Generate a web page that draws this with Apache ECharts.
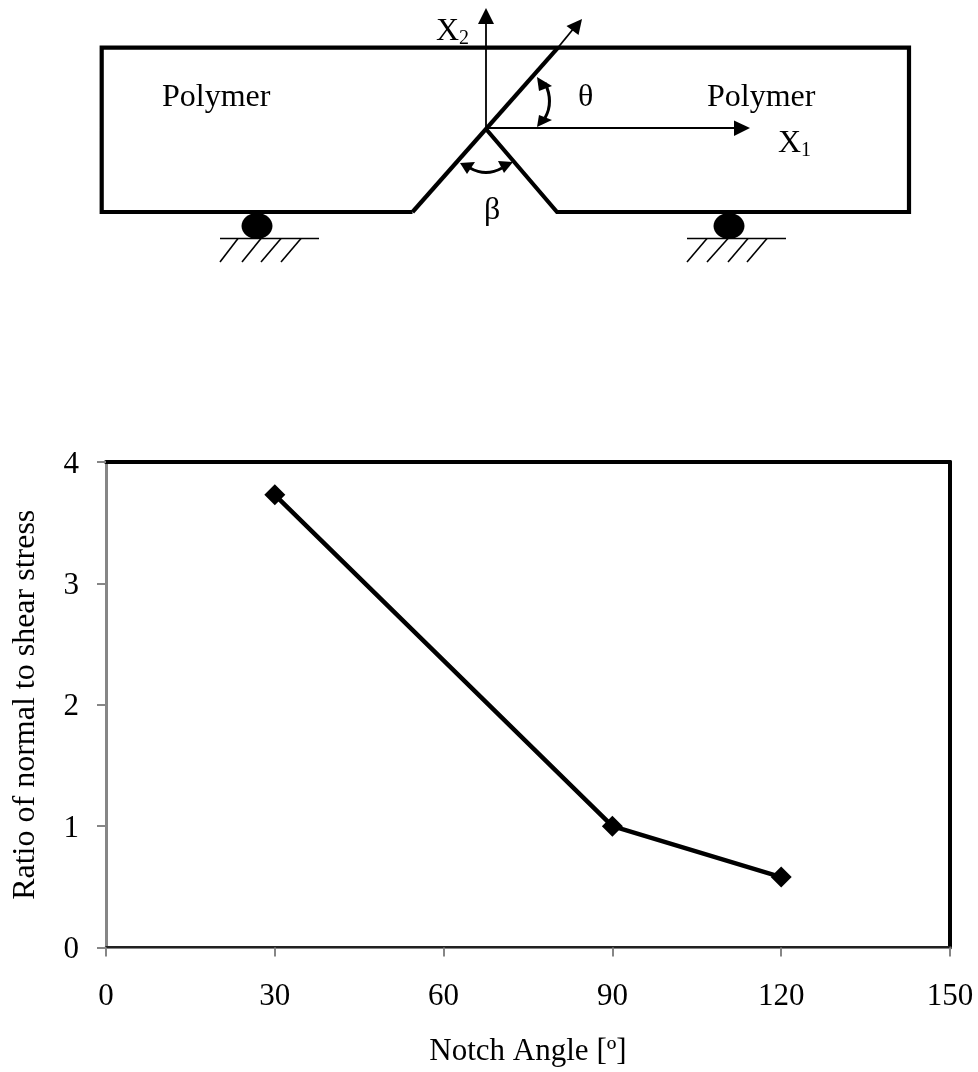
<!DOCTYPE html>
<html>
<head>
<meta charset="utf-8">
<style>html,body{margin:0;padding:0;background:#fff}#c{width:978px;height:1072px}</style>
<script src="https://cdn.jsdelivr.net/npm/echarts@6/dist/echarts.min.js"></script>
</head>
<body>
<div id="c"></div>
<script>
var notchAngles = [30, 90, 120];
var stressRatios = [3.73, 1.0, 0.58];
var xTicks = [0, 30, 60, 90, 120, 150];
var yTicks = [0, 1, 2, 3, 4];
var xTitle = 'Notch Angle [º]';
var yTitle = 'Ratio of normal to shear stress';

var FONT = '"Liberation Serif","Times New Roman",serif';
var INK = '#000';
var GREY = '#868686';

function line(points, width) {
  return { type: 'polyline', silent: true, shape: { points: points },
    style: { stroke: INK, lineWidth: width, fill: null, lineJoin: 'miter', lineCap: 'butt' } };
}
function head(points) {
  return { type: 'polygon', silent: true, shape: { points: points }, style: { fill: INK, stroke: null } };
}
function label(text, x, y, size) {
  return { type: 'text', silent: true, style: { text: text, x: x, y: y, fill: INK,
    font: size + 'px ' + FONT, textAlign: 'left', textVerticalAlign: 'middle' } };
}
function arc(points, width) {
  return { type: 'bezierCurve', silent: true,
    shape: { x1: points[0][0], y1: points[0][1], cpx1: points[1][0], cpy1: points[1][1],
             x2: points[2][0], y2: points[2][1] },
    style: { stroke: INK, lineWidth: width, fill: null } };
}
function support(cx, x0, x1, hatch) {
  var out = [
    { type: 'ellipse', silent: true, shape: { cx: cx, cy: 226, rx: 15.5, ry: 13 }, style: { fill: INK } },
    line([[x0, 238.5], [x1, 238.5]], 1.6)
  ];
  hatch.forEach(function (h) { out.push(line([[h[0], 262], [h[1], 238.5]], 1.6)); });
  return out;
}

var diagram = [
  line([[412.5, 212], [101.7, 212], [101.7, 47.7], [909, 47.7], [909, 212], [557, 212], [486, 129]], 4.2),
  line([[412.5, 212], [558, 47.7]], 4.2),
  line([[486, 129], [486, 20]], 1.8),
  head([[486, 8], [478, 24], [494, 24]]),
  line([[486, 128], [736, 128]], 1.8),
  head([[750, 128], [734, 120.5], [734, 136]]),
  line([[556, 50], [574, 28]], 1.8),
  head([[582, 19], [566.5, 26], [578.5, 35]]),
  arc([[545, 83], [554, 102], [545, 118]], 3),
  head([[537, 77], [552, 86], [539, 91]]),
  head([[537, 127], [552, 120], [539, 115]]),
  arc([[470, 168], [486, 177], [502, 168]], 3),
  head([[460, 163], [475, 162], [467, 174]]),
  head([[513, 162], [498, 161], [504, 173]])
].concat(
  support(257, 220, 319, [[220, 238], [242, 261], [261, 281], [281, 301]]),
  support(729, 687, 786, [[687, 707], [707, 728], [728, 748], [747, 767]]),
  [
    label('Polymer', 162, 98, 32),
    label('Polymer', 707, 98, 32),
    label('X', 436, 32, 32),
    label('2', 459, 39, 20),
    label('X', 778, 144, 32),
    label('1', 801, 151, 20),
    label('θ', 578, 98, 32),
    label('β', 484, 211, 32)
  ]
);

function frameX(position, offset, color, width) {
  return { type: 'value', position: position, offset: offset,
    min: xTicks[0], max: xTicks[xTicks.length - 1], interval: xTicks[1] - xTicks[0],
    axisLine: { show: true, onZero: false, lineStyle: { color: color, width: width } },
    axisTick: { show: false }, axisLabel: { show: false }, splitLine: { show: false } };
}

var chart = echarts.init(document.getElementById('c'), null, { renderer: 'canvas' });
chart.setOption({
  animation: false,
  backgroundColor: '#fff',
  grid: { left: 106, right: 28, top: 462, bottom: 124.5, show: false, outerBoundsMode: 'none' },
  xAxis: [{
    type: 'value', min: xTicks[0], max: xTicks[xTicks.length - 1], interval: xTicks[1] - xTicks[0],
    name: xTitle, nameLocation: 'middle', nameGap: 89,
    nameTextStyle: { fontFamily: FONT, fontSize: 31, color: INK },
    axisLine: { show: true, onZero: false, lineStyle: { color: GREY, width: 3 } },
    axisTick: { show: true, length: 9, lineStyle: { color: GREY, width: 2 } },
    axisLabel: { fontFamily: FONT, fontSize: 31, color: INK, margin: 34 },
    splitLine: { show: false }
  }, frameX('top', 0, INK, 4), frameX('bottom', -1, INK, 1.5)],
  yAxis: [{
    type: 'value', min: yTicks[0], max: yTicks[yTicks.length - 1], interval: yTicks[1] - yTicks[0],
    name: yTitle, nameLocation: 'middle', nameGap: 64,
    nameTextStyle: { fontFamily: FONT, fontSize: 32, color: INK },
    axisLine: { show: true, onZero: false, lineStyle: { color: GREY, width: 3 } },
    axisTick: { show: true, length: 9, lineStyle: { color: GREY, width: 2 } },
    axisLabel: { fontFamily: FONT, fontSize: 31, color: INK, margin: 27, verticalAlign: 'top', lineHeight: 5 },
    splitLine: { show: false }
  }, {
    type: 'value', position: 'right',
    min: yTicks[0], max: yTicks[yTicks.length - 1], interval: yTicks[1] - yTicks[0],
    axisLine: { show: true, onZero: false, lineStyle: { color: INK, width: 4 } },
    axisTick: { show: false }, axisLabel: { show: false }, splitLine: { show: false }
  }],
  series: [{
    type: 'line',
    data: notchAngles.map(function (a, i) { return [a, stressRatios[i]]; }),
    symbol: 'diamond', symbolSize: 21,
    itemStyle: { color: INK },
    lineStyle: { color: INK, width: 4.5 },
    clip: false
  }],
  graphic: { elements: diagram }
});
</script>
</body>
</html>
